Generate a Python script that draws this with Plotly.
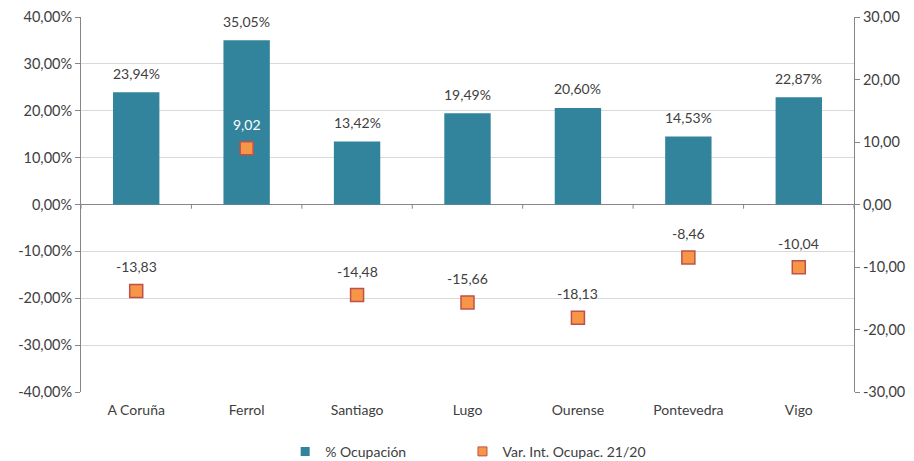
import plotly.graph_objects as go

# Data
ciudades = ['A Coruña', 'Ferrol', 'Santiago', 'Lugo', 'Ourense', 'Pontevedra', 'Vigo']
ocupacion = [23.94, 35.05, 13.42, 19.49, 20.60, 14.53, 22.87]
var_ocupac = [-13.83, 9.02, -14.48, -15.66, -18.13, -8.46, -10.04]

left_ticks = [-40, -30, -20, -10, 0, 10, 20, 30, 40]
right_ticks = [-30, -20, -10, 0, 10, 20, 30]


def fmt(v, dec=2):
    return f"{v:.{dec}f}".replace('.', ',')


teal = '#31849B'
orange = '#F79646'
orange_edge = '#C0504D'
txt = '#404040'
font = 'Lato, Noto Sans, sans-serif'

fig = go.Figure()

fig.add_trace(go.Bar(
    x=ciudades, y=ocupacion, name='% Ocupación',
    marker=dict(color=teal, line=dict(width=0)),
    width=0.42, yaxis='y', showlegend=False
))

fig.add_trace(go.Scatter(
    x=ciudades, y=var_ocupac, name='Var. Int. Ocupac. 21/20',
    mode='markers', yaxis='y2', showlegend=False,
    marker=dict(symbol='square', size=13, color=orange,
                line=dict(color=orange_edge, width=1.5))
))

# legend entries with small square swatches, one legend box each
fig.add_trace(go.Scatter(x=[None], y=[None], mode='markers', name='% Ocupación',
                         legend='legend',
                         marker=dict(symbol='square', size=9, color=teal)))
fig.add_trace(go.Scatter(x=[None], y=[None], mode='markers', name='Var. Int. Ocupac. 21/20',
                         legend='legend2',
                         marker=dict(symbol='square', size=9, color=orange,
                                     line=dict(color=orange_edge, width=1))))

annotations = []
for c, v in zip(ciudades, ocupacion):
    annotations.append(dict(x=c, y=v, xref='x', yref='y', text=fmt(v) + '%',
                            showarrow=False, yshift=19,
                            font=dict(size=14, color=txt, family=font)))
for c, v, o in zip(ciudades, var_ocupac, ocupacion):
    col = 'white' if v > 0 and v * 40 / 30 < o else txt
    annotations.append(dict(x=c, y=v, xref='x', yref='y2', text=fmt(v),
                            showarrow=False, yshift=24,
                            font=dict(size=14, color=col, family=font)))

# small category ticks on the zero line
shapes = []
for i in range(len(ciudades) + 1):
    shapes.append(dict(type='line', xref='x', yref='y', x0=i - 0.5, x1=i - 0.5,
                       y0=0, y1=-0.9, line=dict(color='#868686', width=1)))

legend_style = dict(orientation='h', xanchor='left', xref='container',
                    y=0.02, yanchor='middle', yref='container',
                    font=dict(size=14, color=txt), itemwidth=30)

fig.update_layout(
    width=914, height=461,
    margin=dict(l=81, r=60, t=17, b=69),
    plot_bgcolor='white', paper_bgcolor='white',
    font=dict(family=font, size=14, color=txt),
    xaxis=dict(showgrid=False, showline=False, ticks='', automargin=False,
               ticklabelstandoff=8,
               tickfont=dict(size=14, color=txt), range=[-0.5, 6.5]),
    yaxis=dict(range=[-40, 40], tickvals=left_ticks, automargin=False,
               ticktext=[fmt(t) + '%' for t in left_ticks],
               showgrid=True, gridcolor='#D9D9D9', gridwidth=1,
               zeroline=True, zerolinecolor='#868686', zerolinewidth=1,
               showline=True, linecolor='#868686', linewidth=1,
               ticks='outside', ticklen=5, tickcolor='#868686',
               tickfont=dict(size=14.5, color=txt)),
    yaxis2=dict(range=[-30, 30], tickvals=right_ticks, automargin=False,
                ticktext=[fmt(t) for t in right_ticks],
                overlaying='y', side='right', showgrid=False, zeroline=False,
                showline=True, linecolor='#868686', linewidth=1,
                ticks='outside', ticklen=5, tickcolor='#868686',
                tickfont=dict(size=14.5, color=txt)),
    legend=dict(x=0.312, **legend_style),
    legend2=dict(x=0.506, **legend_style),
    annotations=annotations,
    shapes=shapes,
)

fig.write_html("out.html", config={'displayModeBar': False},
               post_script="document.body.style.margin='0';")
